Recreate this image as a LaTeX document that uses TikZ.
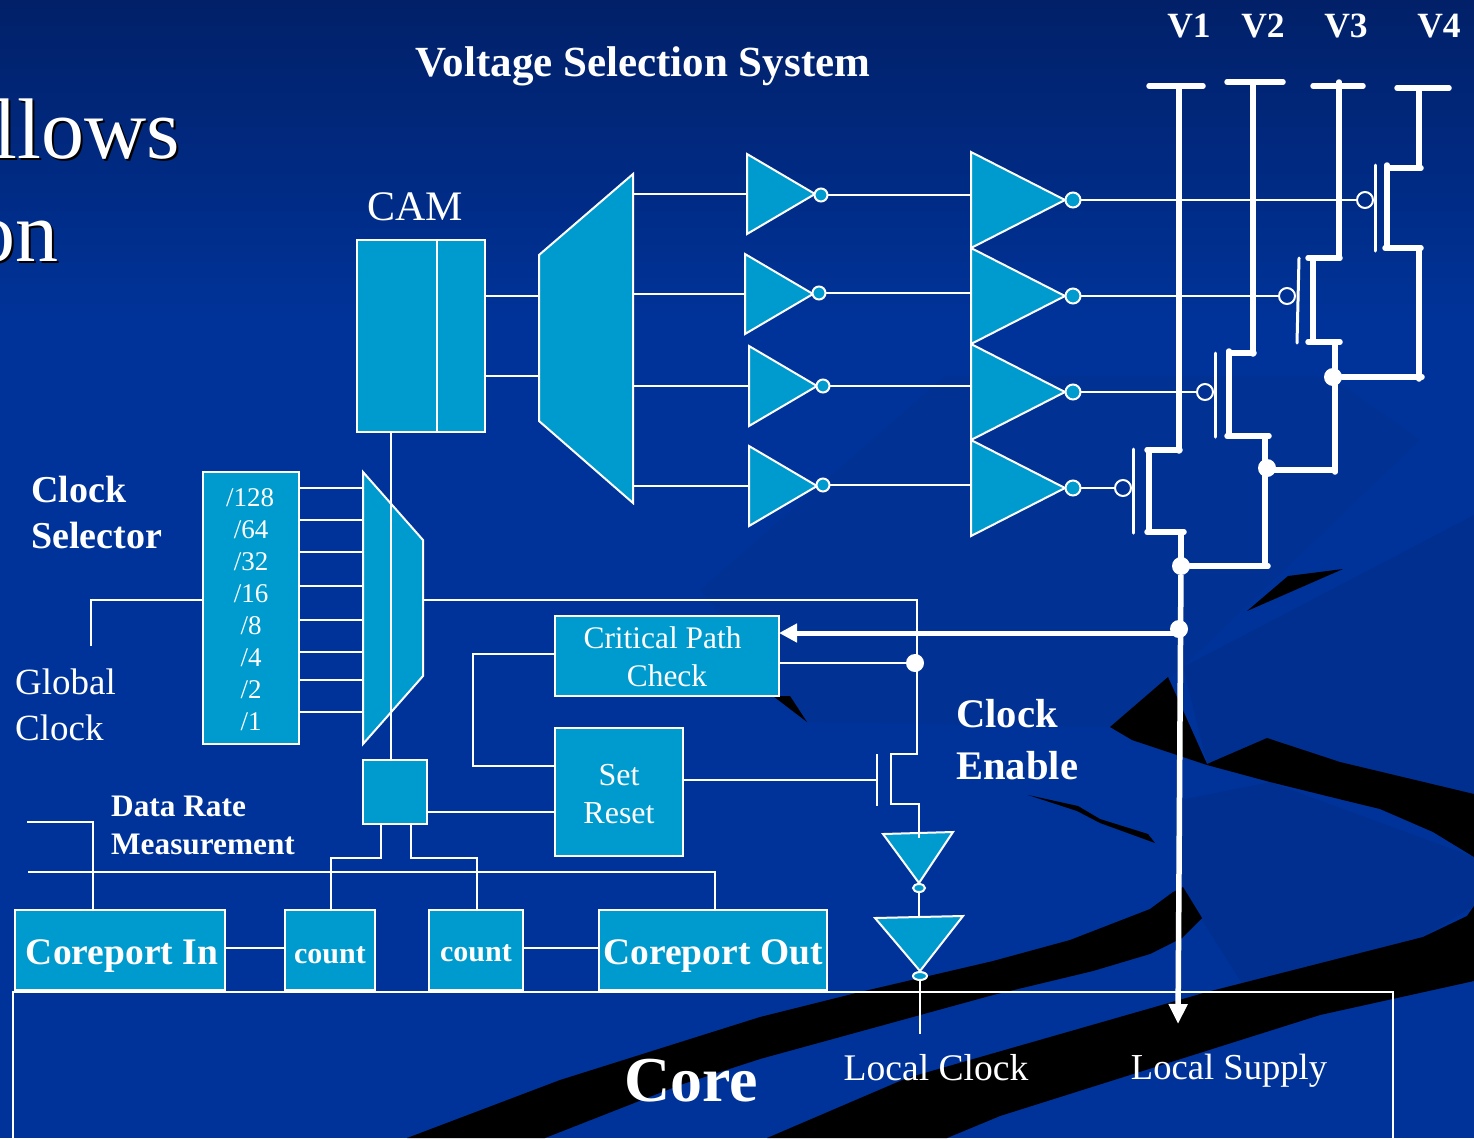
\documentclass[tikz,border=0pt]{standalone}
\usepackage{fontspec}
\setmainfont{Liberation Serif}
\usetikzlibrary{arrows.meta,shapes.geometric}
\definecolor{bgtop}{HTML}{012068}
\definecolor{bgmain}{HTML}{003399}
\definecolor{bgsheet}{HTML}{003193}
\definecolor{bgdeep}{HTML}{002F90}
\definecolor{cellblue}{HTML}{009BCE}
\begin{document}
\begin{tikzpicture}[x=1pt, y=-1pt,
    cell/.style={draw=white, line width=2pt, fill=cellblue, line join=miter},
    cellbox/.style={cell, inner sep=0pt, outer sep=0pt, text=white, align=center},
    wire/.style={draw=white, line width=2pt},
    rail/.style={draw=white, line width=5.5pt, line cap=round},
    gateline/.style={draw=white, line width=3pt, line cap=round},
    bubble/.style={circle, draw=white, line width=2pt, fill=cellblue, inner sep=0pt, minimum size=15pt, outer sep=0pt},
    openbubble/.style={circle, draw=white, line width=2pt, inner sep=0pt, minimum size=16pt, outer sep=0pt},
    smallbubble/.style={ellipse, draw=white, line width=2pt, fill=cellblue, inner sep=0pt, minimum width=13pt, minimum height=8pt, outer sep=0pt},
    junction/.style={circle, fill=white, inner sep=0pt, minimum size=18pt},
    plaintxt/.style args={#1/#2}{font=\fontsize{#1}{#2}\selectfont, text=white, inner sep=0pt, align=left},
    boldtxt/.style args={#1/#2}{font=\fontsize{#1}{#2}\selectfont\bfseries, text=white, inner sep=0pt, align=left},
    dividetxt/.style={font=\fontsize{27}{30}\selectfont, text=white, inner sep=0pt}]
  \useasboundingbox (0,0) rectangle (1474,1138);
  \clip (0,0) rectangle (1474,1138);
  % background
  \fill[bgmain] (0,0) rectangle (1474,1138);
  \shade[top color=bgtop, bottom color=bgmain] (0,0) rectangle (1474,320);
  \fill[bgsheet] (700,590) -- (945,376) -- (1330,376) -- (1420,440) -- (1183,667) -- (1110,727) -- (807,722) -- cycle;
  \fill[bgdeep] (1183,667) -- (1474,515) -- (1474,794) -- (1207,764) -- cycle;
  \fill[bgdeep] (1183,890) -- (1243,985) -- (1423,937) -- (1474,906) -- (1474,857) -- (1270,782) -- (1180,800) -- cycle;
  \fill[black] (407,1138) -- (560,1080) -- (760,1017) -- (860,992) -- (993,961) -- (1070,940) -- (1150,909) -- (1173,892) -- (1183,887) -- (1202,918) -- (1182,938) -- (1150,954) -- (1093,971) -- (993,995) -- (760,1059) -- (680,1085) -- (545,1138) -- cycle;
  \fill[black] (767,1138) -- (907,1078) -- (1207,992) -- (1423,937) -- (1467,916) -- (1474,906) -- (1474,981) -- (1320,1015) -- (1000,1116) -- (947,1138) -- cycle;
  \fill[black] (1110,727) -- (1168,677) -- (1207,764) -- (1267,738) -- (1340,762) -- (1474,794) -- (1474,857) -- (1433,832) -- (1380,809) -- (1347,801) -- (1270,782) -- (1207,765) -- (1132,740) -- cycle;
  \fill[black] (1247,611) -- (1288,576) -- (1343,569) -- cycle;
  \fill[black] (1028,795) -- (1078,806) -- (1100,819) -- (1148,834) -- (1155,843) -- (1100,823) -- (1077,811) -- cycle;
  \fill[black] (773,696) -- (790,696) -- (807,722) -- cycle;

  % slide title left over at the edge
  \node[plaintxt=86/90, text=black, anchor=base east] (allowsshadow) at (182,160) {llows};
  \node[plaintxt=86/90, anchor=base east] (allows) at (180,158) {llows};
  \node[plaintxt=86/90, text=black, anchor=base east] (onshadow) at (61,263) {on};
  \node[plaintxt=86/90, anchor=base east] (on) at (59,261) {on};

  % labels
  \node[boldtxt=43/46] (title) at (643,66) {Voltage Selection System};
  \node[boldtxt=35.5/38] (vone) at (1189,26) {V1};
  \node[boldtxt=35.5/38] (vtwo) at (1263,26) {V2};
  \node[boldtxt=35.5/38] (vthree) at (1346,26) {V3};
  \node[boldtxt=35.5/38] (vfour) at (1439,26) {V4};
  \node[plaintxt=42/46] (camlabel) at (415,207) {CAM};
  \node[boldtxt=38/46, anchor=west] (selectorlabel) at (31,512) {Clock\\Selector};
  \node[plaintxt=37/46, anchor=west] (globallabel) at (15,705) {Global\\Clock};
  \node[boldtxt=31.3/38, anchor=west] (ratelabel) at (111,825) {Data Rate\\Measurement};
  \node[boldtxt=40.6/52, anchor=west] (enablelabel) at (956,740) {Clock\\Enable};
  \node[boldtxt=64/66] (corelabel) at (691,1081) {Core};
  \node[plaintxt=37.6/40] (localclock) at (936,1068) {Local Clock};
  \node[plaintxt=36.6/40] (localsupply) at (1229,1071) {Local Supply};

  % core outline
  \draw[wire] (13,1150) -- (13,992) -- (1393,992) -- (1393,1150);

  % boxes
  \node[cellbox, minimum width=128pt, minimum height=192pt] (cam) at (421,336) {};
  \coordinate (camsplit) at (437,240);
  \draw[wire] (camsplit) -- (camsplit |- cam.south);
  \node[cellbox, minimum width=96pt, minimum height=272pt] (divider) at (251,608) {};
  \node[dividetxt] (d128) at (250,498) {/128};
  \node[dividetxt] (d64) at (251,530) {/64};
  \node[dividetxt] (d32) at (251,562) {/32};
  \node[dividetxt] (d16) at (251,594) {/16};
  \node[dividetxt] (d8) at (251,626) {/8};
  \node[dividetxt] (d4) at (251,658) {/4};
  \node[dividetxt] (d2) at (251,690) {/2};
  \node[dividetxt] (d1) at (251,722) {/1};
  \node[cellbox, minimum width=224pt, minimum height=80pt, font=\fontsize{31.4}{38}\selectfont] (critical) at (667,656) {\rule{0pt}{23pt}Critical Path\hspace*{9pt}\\Check};
  \node[cellbox, minimum width=128pt, minimum height=128pt, font=\fontsize{32}{38}\selectfont] (setreset) at (619,792) {\rule{0pt}{26pt}Set\\Reset};
  \node[cellbox, minimum width=64pt, minimum height=64pt] (ratebox) at (395,792) {};
  \node[cellbox, minimum width=210pt, minimum height=80pt, text height=34pt, text depth=6pt, font=\fontsize{37.5}{42}\selectfont\bfseries] (portin) at (120,950) {\hspace*{4pt}Coreport In};
  \node[cellbox, minimum width=90pt, minimum height=80pt, text height=26pt, text depth=0pt, font=\fontsize{30}{34}\selectfont\bfseries] (countin) at (330,950) {count};
  \node[cellbox, minimum width=94pt, minimum height=80pt, text height=22pt, text depth=0pt, font=\fontsize{30}{34}\selectfont\bfseries] (countout) at (476,950) {count};
  \node[cellbox, minimum width=228pt, minimum height=80pt, text height=34pt, text depth=6pt, font=\fontsize{37.5}{42}\selectfont\bfseries] (portout) at (713,950) {Coreport Out};

  % wires behind the gates
  \coordinate (seltop) at (391,432);
  \coordinate (muxout) at (423,600);
  \coordinate (clockin) at (91,646);
  \coordinate (decina) at (539,296);
  \coordinate (decinb) at (539,376);
  \draw[wire] (cam.east |- decina) -- (decina);
  \draw[wire] (cam.east |- decinb) -- (decinb);
  \draw[wire] (clockin) -- (clockin |- muxout) -- (divider.west |- muxout);

  % clock mux
  \coordinate (sela) at (363,488);
  \coordinate (selb) at (363,520);
  \coordinate (selc) at (363,552);
  \coordinate (seld) at (363,586);
  \coordinate (sele) at (363,620);
  \coordinate (self) at (363,652);
  \coordinate (selg) at (363,680);
  \coordinate (selh) at (363,712);
  \draw[wire] (divider.east |- sela) -- (sela);
  \draw[wire] (divider.east |- selb) -- (selb);
  \draw[wire] (divider.east |- selc) -- (selc);
  \draw[wire] (divider.east |- seld) -- (seld);
  \draw[wire] (divider.east |- sele) -- (sele);
  \draw[wire] (divider.east |- self) -- (self);
  \draw[wire] (divider.east |- selg) -- (selg);
  \draw[wire] (divider.east |- selh) -- (selh);
  \draw[cell] (363,472) -- (423,540) -- (423,676) -- (363,744) -- cycle;
  \draw[wire] (seltop) -- (seltop |- ratebox.north);

  % decoder
  \draw[cell] (539,255) -- (633,174) -- (633,503) -- (539,421) -- cycle;

  % first inverter row
  \draw[cell] (747,154) -- (815,194) -- (747,234) -- cycle;
  \draw[cell] (745,254) -- (813,294) -- (745,334) -- cycle;
  \draw[cell] (749,346) -- (817,386) -- (749,426) -- cycle;
  \draw[cell] (749,446) -- (817,486) -- (749,526) -- cycle;
  \node[bubble, minimum size=13pt] (buba) at (821,195) {};
  \node[bubble, minimum size=13pt] (bubb) at (819,293) {};
  \node[bubble, minimum size=13pt] (bubc) at (823,386) {};
  \node[bubble, minimum size=13pt] (bubd) at (823,485) {};
  \coordinate (decouta) at (633,194);
  \coordinate (decoutb) at (633,294);
  \coordinate (decoutc) at (633,386);
  \coordinate (decoutd) at (633,486);
  \draw[wire] (decouta) -- (747,194);
  \draw[wire] (decoutb) -- (745,294);
  \draw[wire] (decoutc) -- (749,386);
  \draw[wire] (decoutd) -- (749,486);

  % second inverter row
  \draw[wire] (buba) -- (971,195);
  \draw[wire] (bubb) -- (971,293);
  \draw[wire] (bubc) -- (971,386);
  \draw[wire] (bubd) -- (971,485);
  \draw[cell] (971,152) -- (1065,200) -- (971,248) -- cycle;
  \draw[cell] (971,248) -- (1065,296) -- (971,344) -- cycle;
  \draw[cell] (971,344) -- (1065,392) -- (971,440) -- cycle;
  \draw[cell] (971,440) -- (1065,488) -- (971,536) -- cycle;
  \node[bubble] (outa) at (1073,200) {};
  \node[bubble] (outb) at (1073,296) {};
  \node[bubble] (outc) at (1073,392) {};
  \node[bubble] (outd) at (1073,488) {};

  % gates of the supply switches
  \node[openbubble] (gatea) at (1365,200) {};
  \node[openbubble] (gateb) at (1287,296) {};
  \node[openbubble] (gatec) at (1205,392) {};
  \node[openbubble] (gated) at (1123,488) {};
  \draw[wire] (outa) -- (gatea);
  \draw[wire] (outb) -- (gateb);
  \draw[wire] (outc) -- (gatec);
  \draw[wire] (outd) -- (gated);

  % V4 switch
  \draw[rail] (1397,88) -- (1449,88);
  \draw[rail] (1419,88) -- (1419,168);
  \draw[rail] (1387,165) -- (1387,248);
  \draw[rail] (1387,168) -- (1421,168);
  \draw[rail] (1385,248) -- (1421,248);
  \draw[rail] (1419,248) -- (1419,379);
  \draw[gateline] (1375,165) -- (1375,251);
  % V3 switch
  \draw[rail] (1313,86) -- (1363,86);
  \draw[rail] (1339,82) -- (1339,258);
  \draw[rail] (1313,258) -- (1313,342);
  \draw[rail] (1308,258) -- (1340,258);
  \draw[rail] (1308,342) -- (1340,342);
  \draw[rail] (1335,342) -- (1335,472);
  \draw[gateline] (1299,258) -- (1297,343);
  \node[junction] (jthree) at (1333,377) {};
  \coordinate (threeout) at (1422,377);
  \draw[rail] (jthree) -- (threeout);
  % V2 switch
  \draw[rail] (1227,82) -- (1283,82);
  \draw[rail] (1253,82) -- (1253,354);
  \draw[rail] (1229,351) -- (1229,436);
  \draw[rail] (1229,353) -- (1254,353);
  \draw[rail] (1227,436) -- (1269,436);
  \draw[rail] (1265,436) -- (1265,566);
  \draw[gateline] (1215,353) -- (1215,437);
  \node[junction] (jtwo) at (1267,468) {};
  \coordinate (twoin) at (1267,470);
  \coordinate (twoout) at (1335,470);
  \draw[rail] (twoin) -- (twoout);
  % V1 switch
  \draw[rail] (1149,86) -- (1203,86);
  \draw[rail] (1179,86) -- (1179,451);
  \draw[rail] (1149,450) -- (1149,532);
  \draw[rail] (1147,450) -- (1180,450);
  \draw[rail] (1147,532) -- (1184,532);
  \draw[rail] (1181,532) -- (1181,566);
  \draw[gateline] (1133,449) -- (1133,533);
  \node[junction] (jone) at (1181,566) {};
  \coordinate (oneout) at (1268,566);
  \draw[rail] (jone) -- (oneout);

  % local supply
  \coordinate (supplytip) at (1178,1024);
  \draw[draw=white, line width=5.5pt, -{Triangle[width=18pt, length=20pt]}] (jone) -- (supplytip);
  \node[junction] (jsense) at (1179,629) {};
  \coordinate (senseout) at (1179,633);
  \coordinate (sensein) at (779,633);
  \draw[draw=white, line width=5pt, -{Triangle[width=18pt, length=18pt]}] (senseout) -- (sensein);

  % clock enable
  \coordinate (enableg) at (877,780);
  \coordinate (enablein) at (917,754);
  \coordinate (invina) at (919,832);
  \node[junction] (jenable) at (915,663) {};
  \draw[wire] (muxout) -- (917,600) -- (enablein) -- (891,754) -- (891,804) -- (919,804) -- (invina);
  \draw[wire] (critical.east |- jenable) -- (jenable);
  \draw[wire] (877,754) -- (877,806);
  \draw[wire] (setreset.east |- enableg) -- (enableg);
  \coordinate (resetb) at (555,766);
  \coordinate (resett) at (555,654);
  \draw[wire] (resetb) -- (473,766) -- (473,654) -- (resett);
  \coordinate (resetc) at (555,812);
  \draw[wire] (ratebox.east |- resetc) -- (resetc);
  \draw[cell] (883,834) -- (953,832) -- (919,883) -- cycle;
  \draw[wire] (invina) -- (919,838);
  \node[smallbubble, minimum width=12pt] (bubclka) at (919,888) {};
  \draw[cell] (875,918) -- (963,916) -- (920,971) -- cycle;
  \node[smallbubble, minimum width=14pt] (bubclkb) at (920,976) {};
  \draw[wire] (bubclka) -- (919,916);
  \coordinate (clockout) at (920,1034);
  \draw[wire] (bubclkb) -- (clockout);

  % data rate measurement
  \coordinate (ratein) at (27,822);
  \coordinate (rateinb) at (93,910);
  \coordinate (rateout) at (28,872);
  \coordinate (rateoutb) at (715,910);
  \draw[wire] (ratein) -- (93,822) -- (rateinb);
  \draw[wire] (rateout) -- (715,872) -- (rateoutb);
  \draw[wire] (381,824) -- (381,858) -- (331,858) -- (331,910);
  \draw[wire] (411,824) -- (411,858) -- (477,858) -- (477,910);
  \coordinate (portrow) at (255,948);
  \coordinate (portrowb) at (560,948);
  \draw[wire] (portin.east |- portrow) -- (countin.west |- portrow);
  \draw[wire] (countout.east |- portrowb) -- (portout.west |- portrowb);
\end{tikzpicture}
\end{document}
